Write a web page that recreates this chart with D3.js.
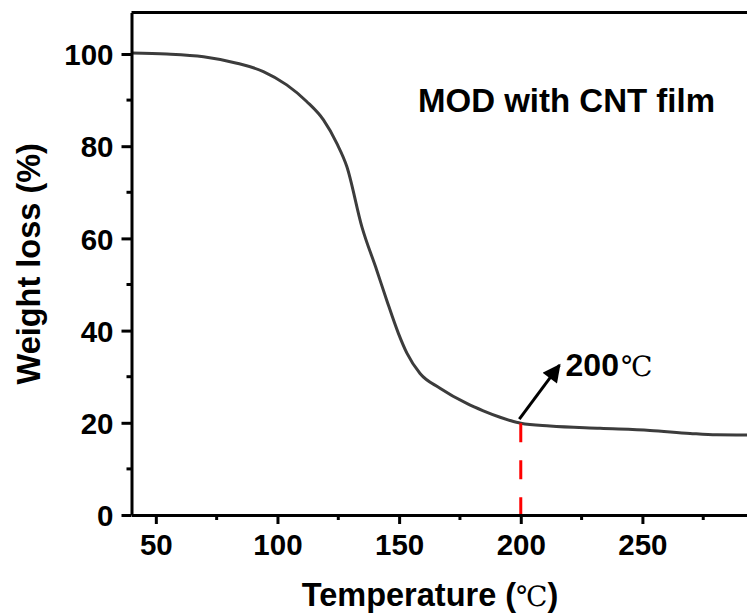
<!DOCTYPE html>
<html>
<head>
<meta charset="utf-8">
<script src="https://cdn.jsdelivr.net/npm/d3@7"></script>
<style>
  body { margin: 0; background: #fff; }
  svg { display: block; }
  text { font-family: "Liberation Sans", Arial, sans-serif; font-weight: bold; fill: #000; }
  .deg { font-family: "DejaVu Serif", "Liberation Serif", serif; font-weight: normal; }
</style>
</head>
<body>
<div id="chart"></div>
<script>
const canvas = { w: 747, h: 616 };

// TGA curve
const temps = [40, 54.5, 69.6, 83.3, 94.2, 103.8, 112, 118.9, 124.4, 128.5, 134.7, 140.8, 144.9, 149.7, 153.2, 158.6, 166.8, 177.8, 184.6, 191.5, 195.6, 200, 212, 232.6, 253.1, 269.6, 280.5, 293, 296];
const weights = [100.2, 100.0, 99.4, 98.0, 96.2, 93.3, 89.7, 85.7, 80.6, 75.6, 62.5, 53.1, 46.6, 39.4, 35.1, 30.7, 27.5, 24.2, 22.6, 21.2, 20.5, 19.9, 19.3, 18.8, 18.35, 17.7, 17.4, 17.35, 17.3];

const xTicks = [50, 100, 150, 200, 250];
const xMinor = [75, 125, 175, 225, 275];
const yTicks = [0, 20, 40, 60, 80, 100];
const yMinor = [10, 30, 50, 70, 90];

const markT = 200;          // red dashed marker
const arrowFrom = [199.4, 20.8];
const arrowTo = [215.9, 32.5];
const sampleName = "MOD with CNT film";

const x = d3.scaleLinear().domain([40, 295]).range([131.5, 751.9]);
const y = d3.scaleLinear().domain([0, 109]).range([515, 12.5]);

const svg = d3.select("#chart")
  .append("svg")
  .attr("width", canvas.w)
  .attr("height", canvas.h);

svg.append("clipPath").attr("id", "plot")
  .append("rect")
  .attr("x", x(40)).attr("y", y(109))
  .attr("width", x(295) - x(40)).attr("height", y(0) - y(109));

// curve
const line = d3.line()
  .x((d, i) => x(temps[i]))
  .y(d => y(d))
  .curve(d3.curveMonotoneX);

svg.append("path")
  .attr("clip-path", "url(#plot)")
  .attr("d", line(weights))
  .attr("fill", "none")
  .attr("stroke", "#3c3c3c")
  .attr("stroke-width", 3)
  .attr("stroke-linejoin", "round");

// red dashed marker at 200
svg.append("line")
  .attr("x1", x(markT)).attr("x2", x(markT))
  .attr("y1", y(19.9)).attr("y2", y(0))
  .attr("stroke", "#ff0000")
  .attr("stroke-width", 3)
  .attr("stroke-dasharray", "19,18");

// frame
svg.append("line")
  .attr("x1", x(40)).attr("x2", x(295))
  .attr("y1", y(109)).attr("y2", y(109))
  .attr("stroke", "#000").attr("stroke-width", 3);
svg.append("line")
  .attr("x1", x(295)).attr("x2", x(295))
  .attr("y1", y(109)).attr("y2", y(0))
  .attr("stroke", "#000").attr("stroke-width", 3);

// axes
const xAxis = svg.append("g")
  .attr("transform", `translate(0,${y(0)})`)
  .call(d3.axisBottom(x).tickValues(xTicks).tickSize(9).tickSizeOuter(0).tickPadding(8));
const yAxis = svg.append("g")
  .attr("transform", `translate(${x(40)},0)`)
  .call(d3.axisLeft(y).tickValues(yTicks).tickSize(10).tickSizeOuter(0).tickPadding(8));

[xAxis, yAxis].forEach(a => {
  a.select(".domain").attr("stroke", "#000").attr("stroke-width", 3);
  a.selectAll(".tick line").attr("stroke", "#000").attr("stroke-width", 3);
  a.selectAll(".tick text")
    .attr("fill", "#000")
    .style("font-family", "'Liberation Sans', Arial, sans-serif")
    .style("font-weight", "bold")
    .style("font-size", "29.5px");
});
yAxis.selectAll(".tick text").attr("dy", "0.36em");
xAxis.selectAll(".tick text").attr("dy", "0.78em");

svg.append("g").selectAll("line")
  .data(xMinor).enter().append("line")
  .attr("x1", d => x(d)).attr("x2", d => x(d))
  .attr("y1", y(0)).attr("y2", y(0) + 5)
  .attr("stroke", "#000").attr("stroke-width", 3);
svg.append("g").selectAll("line")
  .data(yMinor).enter().append("line")
  .attr("x1", x(40)).attr("x2", x(40) - 5)
  .attr("y1", d => y(d)).attr("y2", d => y(d))
  .attr("stroke", "#000").attr("stroke-width", 3);

// axis titles
const xt = svg.append("text")
  .attr("x", 430).attr("y", 606)
  .attr("text-anchor", "middle")
  .style("font-size", "32.5px");
xt.append("tspan").text("Temperature (");
xt.append("tspan").attr("class", "deg").style("font-size", "28px").text("℃");
xt.append("tspan").text(")");

svg.append("text")
  .attr("transform", `translate(40,${(y(0) + y(109)) / 2}) rotate(-90)`)
  .attr("text-anchor", "middle")
  .style("font-size", "32.5px")
  .text("Weight loss (%)");

// sample label
svg.append("text")
  .attr("x", 418).attr("y", 112)
  .style("font-size", "33px")
  .text(sampleName);

// arrow + 200 label
svg.append("defs").append("marker")
  .attr("id", "head")
  .attr("viewBox", "0 0 10 10")
  .attr("refX", 9).attr("refY", 5)
  .attr("markerUnits", "userSpaceOnUse")
  .attr("markerWidth", 24).attr("markerHeight", 18)
  .attr("orient", "auto")
  .append("path")
  .attr("d", "M0,0L10,5L0,10Z")
  .attr("fill", "#000");

svg.append("line")
  .attr("x1", x(arrowFrom[0])).attr("y1", y(arrowFrom[1]))
  .attr("x2", x(arrowTo[0])).attr("y2", y(arrowTo[1]))
  .attr("stroke", "#000").attr("stroke-width", 3)
  .attr("marker-end", "url(#head)");

const lab = svg.append("text")
  .attr("x", x(218.4)).attr("y", 376)
  .style("font-size", "32px");
lab.append("tspan").text(markT);
lab.append("tspan").attr("class", "deg").attr("dx", 2).style("font-size", "28px").text("℃");
</script>
</body>
</html>
